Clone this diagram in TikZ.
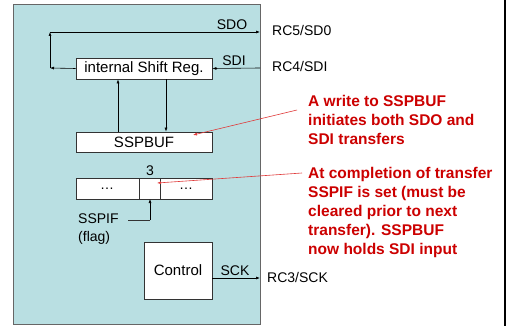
\documentclass[tikz,border=0pt]{standalone}
\usepackage{fontspec}
\setmainfont{Liberation Sans}
\usetikzlibrary{arrows.meta}
\definecolor{panel}{HTML}{B9DFE2}
\definecolor{note}{HTML}{CC0000}
\definecolor{pointer}{HTML}{E03A3A}
\begin{document}
\begin{tikzpicture}[x=1pt,y=-1pt,
  reg/.style={draw=black!80,fill=white,line width=0.8pt,inner sep=0pt},
  sig/.style={draw=black,line width=0.6pt,-{Latex[length=4pt,width=3pt]}},
  wire/.style={draw=black!80,line width=0.6pt},
  lbl/.style={font=\fontsize{14}{14}\selectfont,inner sep=0pt},
  notetext/.style={font=\fontsize{15.5}{19}\selectfont\bfseries,text=note,align=left,inner sep=0pt,anchor=north west},
  ptr/.style={draw=pointer,line width=0.6pt,-{Latex[length=4pt,width=3pt]}}]
\useasboundingbox (0,0) rectangle (510,326);
\fill[white] (0,0) rectangle (510,326);
% peripheral block
\draw[fill=panel,draw=black!60,line width=1pt] (13,5) rectangle (260,324);
% slide border on the right
\draw[black,line width=2pt] (505,0) -- (505,326);

% registers
\node[reg,minimum width=136pt,minimum height=21pt] (shift) at (144,68.5) {\fontsize{15}{15}\selectfont internal Shift Reg.};
\node[reg,minimum width=136pt,minimum height=20pt] (buf) at (144,142) {\fontsize{15}{15}\selectfont SSPBUF};
\node[reg,minimum width=136pt,minimum height=21pt] (stat) at (144,188.5) {};
\draw[wire] (139,178) -- (139,199);
\draw[wire] (160,178) -- (160,199);
\node[lbl] (dl) at (107,189) {\dots};
\node[lbl] (dr) at (186,189) {\dots};
\node[lbl] (bit) at (150,171) {3};
\coordinate (bitin) at (150,199);
\node[reg,minimum width=68pt,minimum height=57pt] (ctl) at (178,270.5) {\fontsize{15}{15}\selectfont Control};

% pins on the block edge
\coordinate (sdoA) at (50,32);
\coordinate (sdoB) at (50,68);
\coordinate (sdoPin) at (260,32);
\coordinate (sdiPin) at (260,68);
\coordinate (sckPin) at (260,278);
\coordinate (flagC) at (128,220);
\coordinate (flagK) at (150,220);

% serial paths
\draw[sig] (shift.west) -- (sdoB);
\draw[sig] (sdoB) -- (sdoA);
\draw[sig] (sdoA) -- (sdoPin);
\draw[sig] (sdiPin) -- (shift.east);
\draw[sig] (buf.north -| 118,0) -- (shift.south -| 118,0);
\draw[sig] (shift.south -| 166,0) -- (buf.north -| 166,0);
\draw[sig] (ctl.east |- sckPin) -- (sckPin);
\draw[wire] (flagC) -- (flagK);
\draw[sig] (flagK) -- (bitin);

% signal names
\node[lbl,anchor=south] (sdo) at (232,30) {SDO};
\node[lbl,anchor=south] (sdi) at (234,66) {SDI};
\node[lbl,anchor=south] (sck) at (235,276) {SCK};
\node[lbl,anchor=west] (rc5) at (272,30) {RC5/SD0};
\node[lbl,anchor=west] (rc4) at (272,66) {RC4/SDI};
\node[lbl,anchor=west] (rc3) at (267,277) {RC3/SCK};
\node[lbl,anchor=west] (flag) at (78,219) {SSPIF};
\node[lbl,anchor=west] (flagtxt) at (78,238) {(flag)};

% notes
\node[notetext] (n1) at (308,95) {A write to SSPBUF\\initiates both SDO and\\SDI transfers};
\node[notetext] (n2) at (308,167) {At completion of transfer\\SSPIF is set (must be\\cleared prior to next\\transfer). SSPBUF\\now holds SDI input};
\coordinate (n1p) at (297,110);
\coordinate (n2p) at (302,173);
\draw[ptr] (n1p) -- (193,135);
\draw[ptr] (n2p) -- (157,183);
\end{tikzpicture}
\end{document}
